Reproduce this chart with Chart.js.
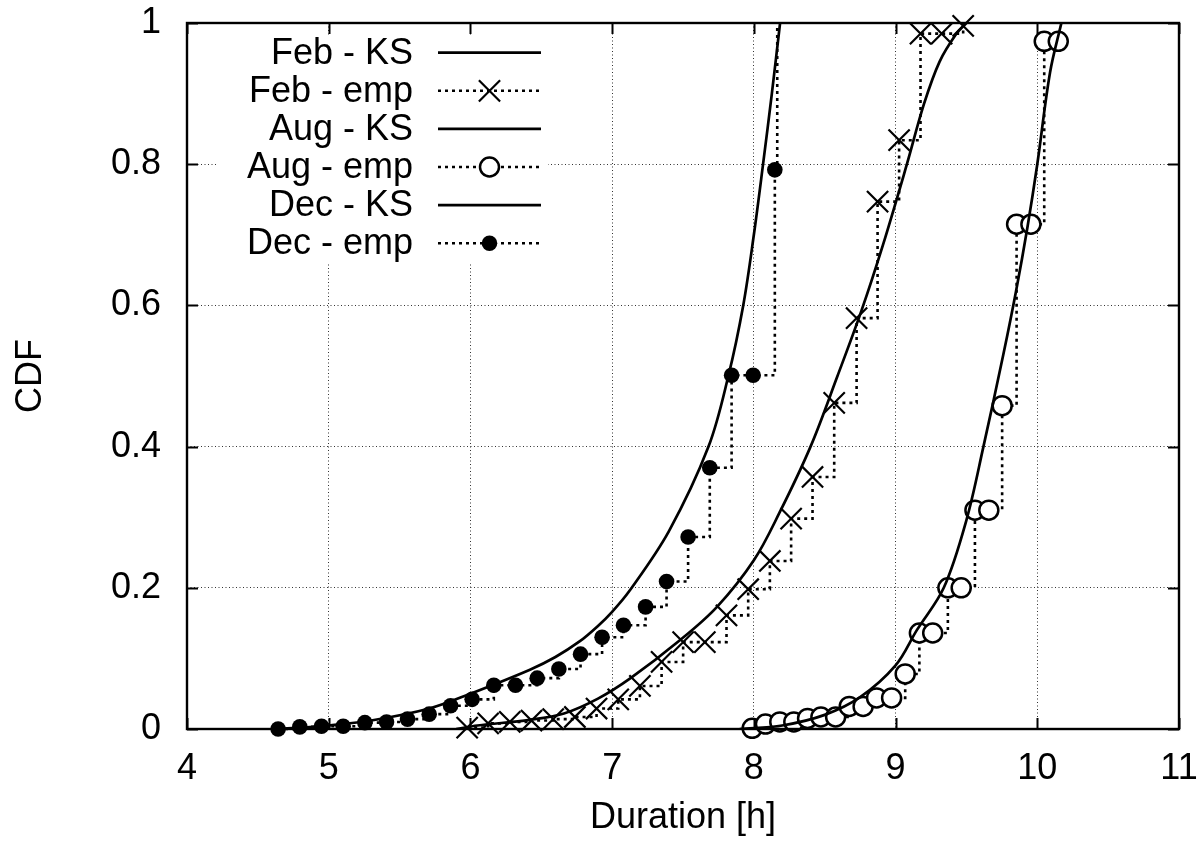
<!DOCTYPE html>
<html>
<head>
<meta charset="utf-8">
<title>CDF of durations</title>
<script src="https://cdn.jsdelivr.net/npm/chart.js@4.4.1/dist/chart.umd.min.js"></script>
<style>
  html, body { margin: 0; padding: 0; background: #fff; }
  canvas { display: block; }
</style>
</head>
<body>
<canvas id="myChart" width="1203" height="846"></canvas>
<script>
let febEmpX = [5.977, 6.125, 6.278, 6.431, 6.584, 6.737, 6.89, 7.043, 7.196, 7.349, 7.501, 7.654, 7.807, 7.96, 8.113, 8.263, 8.414, 8.567, 8.725, 8.873, 9.025, 9.176, 9.325, 9.477];
let febEmpY = [0.002, 0.008, 0.010, 0.012, 0.014, 0.017, 0.029, 0.042, 0.061, 0.095, 0.123, 0.123, 0.161, 0.198, 0.238, 0.298, 0.357, 0.462, 0.582, 0.747, 0.834, 0.985, 0.985, 0.996];

let augEmpX = [7.988, 8.082, 8.183, 8.282, 8.379, 8.473, 8.577, 8.673, 8.771, 8.866, 8.972, 9.068, 9.168, 9.262, 9.369, 9.463, 9.56, 9.658, 9.752, 9.854, 9.955, 10.049, 10.148];
let augEmpY = [0.001, 0.007, 0.010, 0.010, 0.015, 0.017, 0.017, 0.032, 0.032, 0.044, 0.044, 0.078, 0.136, 0.136, 0.200, 0.200, 0.310, 0.310, 0.458, 0.715, 0.715, 0.974, 0.974];

// last Dec point only carries the step up to the top edge (no marker)
let decEmpX = [4.643, 4.796, 4.949, 5.102, 5.255, 5.408, 5.556, 5.709, 5.86, 6.012, 6.165, 6.318, 6.471, 6.624, 6.777, 6.929, 7.08, 7.236, 7.384, 7.536, 7.689, 7.843, 7.995, 8.148, 8.165];
let decEmpY = [0.0, 0.003, 0.004, 0.004, 0.009, 0.010, 0.014, 0.021, 0.033, 0.042, 0.062, 0.062, 0.072, 0.085, 0.106, 0.130, 0.147, 0.173, 0.209, 0.272, 0.370, 0.501, 0.501, 0.792, 1.0];

// fitted (KS) curves
let febKsX = [5.9, 6.05, 6.42, 6.66, 6.9, 7.13, 7.48, 7.74, 8.0, 8.18, 8.4, 8.59, 8.76, 8.91, 9.08, 9.2, 9.31, 9.43, 9.5];
let febKsY = [0.0, 0.005, 0.013, 0.022, 0.043, 0.072, 0.126, 0.173, 0.239, 0.306, 0.4, 0.5, 0.593, 0.685, 0.8, 0.885, 0.945, 0.985, 1.0];

let augKsX = [7.9, 8.2, 8.5, 8.75, 9.0, 9.15, 9.34, 9.5, 9.62, 9.76, 9.85, 9.93, 10.0, 10.09, 10.17];
let augKsY = [0.0, 0.005, 0.02, 0.045, 0.09, 0.14, 0.2, 0.296, 0.4, 0.53, 0.62, 0.71, 0.8, 0.93, 1.0];

let decKsX = [4.6, 4.8, 5.0, 5.3, 5.71, 6.0, 6.42, 6.6, 6.77, 6.9, 7.0, 7.12, 7.4, 7.68, 7.82, 7.925, 8.0, 8.065, 8.127, 8.185];
let decKsY = [0.0, 0.002, 0.005, 0.012, 0.029, 0.05, 0.084, 0.102, 0.124, 0.146, 0.166, 0.195, 0.28, 0.4, 0.5, 0.6, 0.7, 0.8, 0.9, 1.0];

let xTicks = { min: 4, max: 11, step: 1 };
let yTicks = { min: 0, max: 1, step: 0.2 };

function pts(xs, ys) {
  return xs.map(function (x, i) {
    return { x: x, y: ys[i] };
  });
}

const FONT = "'Liberation Sans', Arial, Helvetica, sans-serif";
const FS = 36;
Chart.defaults.font.family = FONT;
Chart.defaults.font.size = FS;
Chart.defaults.color = "#000";

function ksSet(label, xs, ys) {
  return {
    label: label,
    data: pts(xs, ys),
    borderColor: "#000",
    borderWidth: 2.7,
    pointRadius: 0,
    tension: 0.35,
    fill: false,
  };
}

function empSet(label, xs, ys, style, radius, bg, bw) {
  return {
    label: label,
    data: pts(xs, ys),
    borderColor: "#000",
    borderWidth: 2.6,
    borderDash: [3, 4],
    stepped: "before",
    pointStyle: style,
    pointRadius: function (c) {
      return c.raw && c.raw.y >= 1 ? 0 : radius;
    },
    pointBackgroundColor: bg,
    pointBorderColor: "#000",
    pointBorderWidth: bw,
    clip: false,
    fill: false,
  };
}

// gnuplot-like frame, inward ticks and key
let keyRows = { top: 52.7, step: 38.1, textRight: 413, lineFrom: 438, lineTo: 541 };
let keyBox = { left: 218, top: 35, right: 548, bottom: 262 };

let gnuplotLook = {
  id: "gnuplotLook",
  beforeDatasetsDraw(chart) {
    let ctx = chart.ctx;
    ctx.save();
    ctx.fillStyle = "#fff";
    ctx.fillRect(keyBox.left, keyBox.top, keyBox.right - keyBox.left, keyBox.bottom - keyBox.top);
    ctx.restore();
  },
  afterDraw(chart) {
    let ctx = chart.ctx;
    let a = chart.chartArea;
    let sx = chart.scales.x;
    let sy = chart.scales.y;
    ctx.save();
    ctx.setLineDash([]);
    ctx.strokeStyle = "#000";
    ctx.lineWidth = 2;
    ctx.beginPath();
    sx.ticks.forEach(function (t) {
      let px = Math.round(sx.getPixelForValue(t.value)) + 0.5;
      ctx.moveTo(px, a.bottom);
      ctx.lineTo(px, a.bottom - 11);
      ctx.moveTo(px, a.top);
      ctx.lineTo(px, a.top + 11);
    });
    sy.ticks.forEach(function (t) {
      let py = Math.round(sy.getPixelForValue(t.value)) + 0.5;
      ctx.moveTo(a.left, py);
      ctx.lineTo(a.left + 11, py);
      ctx.moveTo(a.right, py);
      ctx.lineTo(a.right - 11, py);
    });
    ctx.stroke();
    ctx.lineWidth = 2.4;
    ctx.strokeRect(a.left, a.top, a.right - a.left, a.bottom - a.top);

    // key
    ctx.font = FS + "px " + FONT;
    ctx.textAlign = "right";
    ctx.textBaseline = "middle";
    chart.data.datasets.forEach(function (ds, i) {
      let y = keyRows.top + keyRows.step * i;
      ctx.fillStyle = "#000";
      ctx.fillText(ds.label, keyRows.textRight, y + 1);
      ctx.strokeStyle = "#000";
      ctx.lineWidth = ds.borderWidth;
      ctx.setLineDash(ds.borderDash || []);
      ctx.beginPath();
      ctx.moveTo(keyRows.lineFrom, y);
      ctx.lineTo(keyRows.lineTo, y);
      ctx.stroke();
      ctx.setLineDash([]);
      if (ds.pointStyle) {
        let r = typeof ds.pointRadius === "function" ? ds.pointRadius({ raw: { y: 0 } }) : ds.pointRadius;
        ctx.fillStyle = ds.pointBackgroundColor;
        ctx.lineWidth = ds.pointBorderWidth;
        Chart.helpers.drawPoint(ctx, {
          pointStyle: ds.pointStyle,
          radius: r,
          borderWidth: ds.pointBorderWidth,
          rotation: 0,
        }, (keyRows.lineFrom + keyRows.lineTo) / 2, y);
      }
    });
    ctx.restore();
  },
};

let ctx = document.getElementById("myChart").getContext("2d");
let chart = new Chart(ctx, {
  type: "line",
  data: {
    datasets: [
      ksSet("Feb - KS", febKsX, febKsY),
      empSet("Feb - emp", febEmpX, febEmpY, "crossRot", 15, "#000", 2.2),
      ksSet("Aug - KS", augKsX, augKsY),
      empSet("Aug - emp", augEmpX, augEmpY, "circle", 9.5, "#fff", 2.5),
      ksSet("Dec - KS", decKsX, decKsY),
      empSet("Dec - emp", decEmpX, decEmpY, "circle", 7.8, "#000", 0),
    ],
  },
  options: {
    responsive: false,
    animation: false,
    events: [],
    layout: { padding: { left: 0, top: 23, right: 24, bottom: 0 } },
    plugins: {
      legend: { display: false },
      tooltip: { enabled: false },
    },
    scales: {
      x: {
        type: "linear",
        min: xTicks.min,
        max: xTicks.max,
        ticks: { stepSize: xTicks.step, padding: 18, font: { size: FS } },
        grid: { color: "rgba(0,0,0,0.8)", lineWidth: 1, drawTicks: false },
        border: { display: false, dash: [1, 2.5] },
        title: { display: true, text: "Duration [h]", font: { size: FS }, padding: { top: 0, bottom: 6 } },
        afterFit: function (scale) {
          scale.height = 117;
          scale.paddingLeft = 0;
          scale.paddingRight = 0;
        },
      },
      y: {
        type: "linear",
        min: yTicks.min,
        max: yTicks.max,
        ticks: {
          stepSize: yTicks.step,
          padding: 26,
          font: { size: FS },
          callback: function (v) {
            return String(Math.round(v * 10) / 10);
          },
        },
        grid: { color: "rgba(0,0,0,0.8)", lineWidth: 1, drawTicks: false },
        border: { display: false, dash: [1, 2.5] },
        title: { display: true, text: "CDF", font: { size: FS }, padding: { top: 9, bottom: 0 } },
        afterFit: function (scale) {
          scale.width = 187;
          scale.paddingTop = 0;
          scale.paddingBottom = 0;
        },
      },
    },
  },
  plugins: [gnuplotLook],
});
</script>
</body>
</html>
